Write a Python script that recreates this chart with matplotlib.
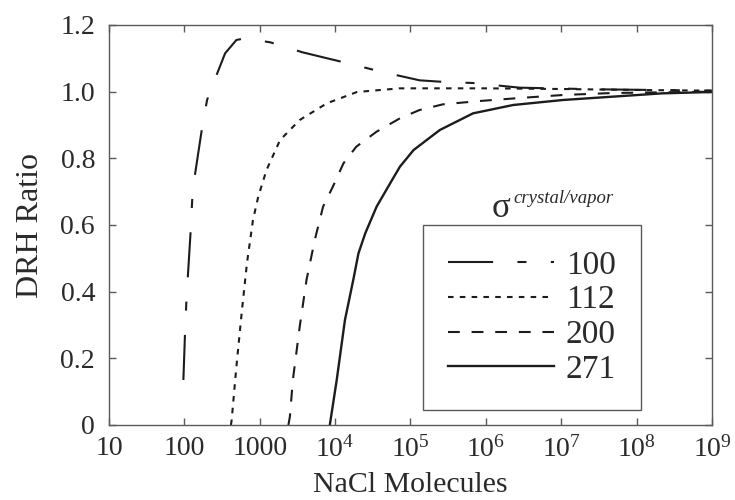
import numpy as np
import matplotlib
matplotlib.use('Agg')
import matplotlib.pyplot as plt
from matplotlib.ticker import FixedLocator, FixedFormatter

plt.rcParams['font.family'] = ['Liberation Serif', 'DejaVu Serif']
plt.rcParams['mathtext.fontset'] = 'custom'
plt.rcParams['mathtext.rm'] = 'Liberation Serif'
plt.rcParams['mathtext.it'] = 'Liberation Serif:italic'
plt.rcParams['lines.scale_dashes'] = False

# DRH ratio vs. particle size for each surface tension value
n_100 = [97, 102, 107, 121, 127, 138, 170, 200, 257, 347, 490, 631, 1380, 3700,
         14800, 38900, 132000, 288000, 676000, 2.8e6, 3.2e7, 1e9]
drh_100 = [0.135, 0.276, 0.385, 0.58, 0.675, 0.75, 0.885, 0.975, 1.04, 1.115, 1.155, 1.16,
           1.148, 1.118, 1.085, 1.061, 1.034, 1.029, 1.026, 1.012, 1.007, 1.003]

n_112 = [415, 424, 490, 575, 676, 813, 955, 1230, 1860, 3390, 7760, 19500, 72400, 1e6, 1e7, 1e8, 1e9]
drh_112 = [0.0, 0.015, 0.175, 0.335, 0.485, 0.615, 0.685, 0.765, 0.855, 0.915, 0.965, 0.999,
           1.01, 1.01, 1.008, 1.005, 1.003]

n_200 = [2400, 2510, 2750, 3390, 4170, 5370, 6920, 9330, 12900, 19100, 35500, 72400,
         132000, 269000, 832000, 2.8e6, 1.05e7, 4.8e7, 1e9]
drh_200 = [0.0, 0.025, 0.135, 0.295, 0.435, 0.555, 0.655, 0.715, 0.785, 0.835, 0.88, 0.92,
           0.945, 0.962, 0.972, 0.981, 0.99, 0.996, 1.0]

n_271 = [8500, 10500, 13500, 17400, 20400, 25100, 35500, 53700, 72400, 110000, 245000,
         676000, 2.3e6, 1.05e7, 4.8e7, 2.2e8, 1e9]
drh_271 = [0.0, 0.135, 0.315, 0.435, 0.515, 0.575, 0.655, 0.725, 0.775, 0.825, 0.885,
           0.935, 0.96, 0.975, 0.985, 0.995, 0.999]

x_ticks = [1e1, 1e2, 1e3, 1e4, 1e5, 1e6, 1e7, 1e8, 1e9]
x_labels = ['10', '100', '1000', r'$10^4$', r'$10^5$', r'$10^6$', r'$10^7$', r'$10^8$', r'$10^9$']
y_ticks = [0, 0.2, 0.4, 0.6, 0.8, 1.0, 1.2]
y_labels = ['0', '0.2', '0.4', '0.6', '0.8', '1.0', '1.2']

ink = '#1c1c1c'
frame = '#5a5a5a'
txt = '#2a2a2a'

fig = plt.figure(figsize=(7.35, 5.0), dpi=100)
ax = fig.add_axes([0.1483, 0.15, 0.8204, 0.80])

ax.plot(n_100, drh_100, color=ink, lw=1.5, dashes=(32.5, 17.5, 6.5, 17.5), label='100')
ax.plot(n_112, drh_112, color=ink, lw=1.5, dashes=(4, 4.5), label='112')
ax.plot(n_200, drh_200, color=ink, lw=1.5, dashes=(8.5, 8.5), label='200')
ax.plot(n_271, drh_271, color=ink, lw=1.7, label='271')

ax.set_xscale('log')
ax.set_xlim(10, 1e9)
ax.set_ylim(0, 1.2)
ax.xaxis.set_major_locator(FixedLocator(x_ticks))
ax.xaxis.set_major_formatter(FixedFormatter(x_labels))
ax.xaxis.set_minor_locator(FixedLocator([]))
ax.yaxis.set_major_locator(FixedLocator(y_ticks))
ax.yaxis.set_major_formatter(FixedFormatter(y_labels))

ax.tick_params(which='major', direction='in', length=5, width=1, color=frame,
               top=True, right=True, labelsize=20, labelcolor=txt)
ax.tick_params(axis='x', pad=8)
ax.tick_params(axis='y', pad=10)
for sp in ax.spines.values():
    sp.set_color(frame)
    sp.set_linewidth(1.0)

ax.set_xlabel('NaCl Molecules', fontsize=21.5, color=txt, labelpad=7)
ax.set_ylabel('DRH Ratio', fontsize=23, color=txt, labelpad=11)

leg = ax.legend(loc='upper left', bbox_to_anchor=(0.52, 0.50), fontsize=24,
                handlelength=3.2, handletextpad=0.35, labelspacing=0.13,
                borderpad=0.75, borderaxespad=0, fancybox=False, framealpha=1,
                edgecolor=frame)
leg.get_frame().set_linewidth(1.0)
for t in leg.get_texts():
    t.set_color(txt)

# sigma with its crystal/vapor superscript, sitting above the legend box
ax.text(0.635, 0.52, 'σ', transform=ax.transAxes, fontsize=25, color=txt,
        ha='left', va='baseline')
ax.text(0.67, 0.555, 'crystal/vapor', transform=ax.transAxes, fontsize=13.5,
        style='italic', color=txt, ha='left', va='baseline')

fig.savefig('out.png', dpi=100)
